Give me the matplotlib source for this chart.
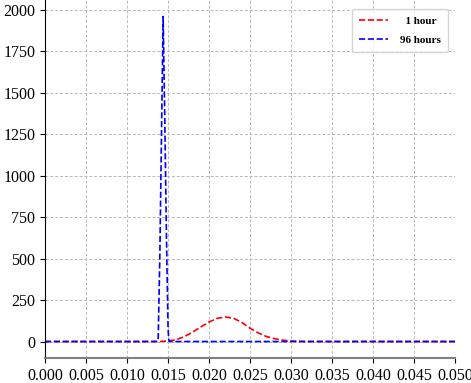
import numpy as np
import matplotlib.pyplot as plt

plt.rcParams['font.family'] = ['Liberation Serif', 'DejaVu Serif']

# 1 hour curve
x_1h = [0.000, 0.010, 0.013, 0.014, 0.015, 0.016, 0.017, 0.018, 0.019, 0.020,
        0.021, 0.022, 0.023, 0.024, 0.025, 0.026, 0.027, 0.028, 0.029, 0.030,
        0.031, 0.032, 0.033, 0.040, 0.050]
y_1h = [0, 0, 0, 0.5, 3, 11, 30, 57, 88, 118,
        140, 148, 140, 115, 80, 52, 30, 17, 8, 3,
        1, 0.3, 0, 0, 0]

# 96 hours curve
x_96h = [0.000, 0.0130, 0.0137, 0.0138, 0.0140, 0.0142, 0.0144, 0.0146, 0.0148,
         0.0150, 0.0151, 0.0152, 0.0200, 0.0500]
y_96h = [0, 0, 0, 20, 520, 1250, 1960, 1350, 650,
         80, 5, 0, 0, 0]

fig = plt.figure(figsize=(4.71, 3.83), dpi=100)
ax = fig.add_axes([0.0955, 0.065, 0.871, 0.935])

ax.plot(x_1h, y_1h, color='red', linestyle='--', linewidth=1.2, label='  1 hour')
ax.plot(x_96h, y_96h, color='blue', linestyle='--', linewidth=1.2, label='96 hours')

ax.set_xlim(0, 0.05)
ax.set_ylim(-100, 2060)
ax.set_xticks(np.arange(0, 0.0501, 0.005))
ax.set_yticks(np.arange(0, 2001, 250))
ax.tick_params(labelsize=11.5)
ax.grid(True, linestyle=(0, (3, 2)), color='#b8b8b8', linewidth=0.7)

ax.spines['top'].set_visible(False)
ax.spines['right'].set_visible(False)
ax.spines['bottom'].set_color('#808080')
ax.spines['bottom'].set_linewidth(1.5)

leg = ax.legend(loc='upper right', prop={'weight': 'bold', 'size': 8},
                handlelength=2.6, handletextpad=1.1, borderpad=0.65,
                labelspacing=0.85, borderaxespad=0,
                bbox_to_anchor=(0.983, 0.975))

plt.savefig('out.png', dpi=100)
